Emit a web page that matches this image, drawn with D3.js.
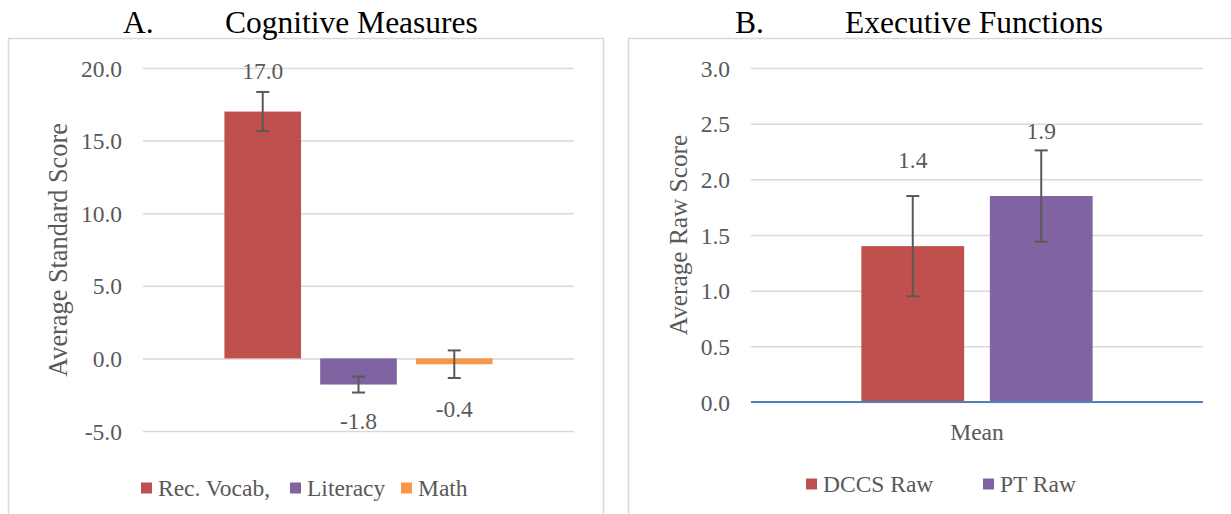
<!DOCTYPE html>
<html>
<head>
<meta charset="utf-8">
<script src="https://cdn.jsdelivr.net/npm/d3@7"></script>
<style>
  body { margin: 0; background: #fff; }
</style>
</head>
<body>
<div id="container"></div>
<script>
var width = 1231,
    height = 514;

// panel A: cognitive measures
var cogSeries = ['Rec. Vocab,', 'Literacy', 'Math'];
var cogValues = [17.0, -1.8, -0.4];
var cogErrors = [1.35, 0.55, 0.95];
var cogTicks = [-5, 0, 5, 10, 15, 20];

// panel B: executive functions
var efSeries = ['DCCS Raw', 'PT Raw'];
var efValues = [1.4, 1.85];
var efErrors = [0.45, 0.41];
var efTicks = [0, 0.5, 1, 1.5, 2, 2.5, 3];
var efCategory = 'Mean';

var colors = ['#C0504D', '#8064A2', '#F79646'];
var textColor = '#595959';
var serif = 'Liberation Serif, Times New Roman, serif';
var fmt = function(d) { return d3.format('.1f')(d).replace('\u2212', '-'); };

var svg = d3.select('#container').append('svg')
    .attr('width', width)
    .attr('height', height);

// panel frames
svg.append('rect')
    .attr('x', 8.5).attr('y', 38.5)
    .attr('width', 595).attr('height', 490)
    .attr('fill', 'none').attr('stroke', '#D9D9D9').attr('stroke-width', 1.5);
svg.append('rect')
    .attr('x', 628.5).attr('y', 38.5)
    .attr('width', 620).attr('height', 490)
    .attr('fill', 'none').attr('stroke', '#D9D9D9').attr('stroke-width', 1.5);

// titles
function title(x1, t1, x2, t2) {
  svg.append('text').attr('x', x1).attr('y', 33)
      .attr('font-size', 31.5).attr('fill', '#000').text(t1);
  svg.append('text').attr('x', x2).attr('y', 33)
      .attr('font-size', 31.5).attr('fill', '#000').text(t2);
}
title(123, 'A.', 225, 'Cognitive Measures');
title(735, 'B.', 845, 'Executive Functions');

function drawPanel(opts) {
  var y = d3.scaleLinear().domain(opts.domain).range(opts.yRange);
  var x = d3.scaleBand().domain(opts.series).range(opts.xRange)
      .paddingInner(0.2).paddingOuter(opts.outer);

  var g = svg.append('g');

  // gridlines + tick labels
  var yAxis = d3.axisLeft(y).tickValues(opts.ticks)
      .tickSize(-(opts.xRange[1] - opts.xRange[0]))
      .tickFormat(fmt)
      .tickPadding(21);
  var ax = g.append('g')
      .attr('transform', 'translate(' + opts.xRange[0] + ',0)')
      .call(yAxis);
  ax.select('.domain').remove();
  ax.selectAll('.tick line').attr('stroke', '#D9D9D9').attr('stroke-width', 1.5);
  ax.selectAll('.tick text')
      .attr('fill', textColor)
      .attr('font-size', 23.5)
      .attr('dy', '0.34em');

  // axis title
  g.append('text')
      .attr('transform', 'translate(' + opts.titleX + ',' + opts.titleY + ') rotate(-90)')
      .attr('text-anchor', 'middle')
      .attr('fill', textColor)
      .attr('font-size', opts.titleSize)
      .text(opts.yTitle);

  // bars
  g.selectAll('.bar')
      .data(opts.values)
      .enter().append('rect')
      .attr('class', 'bar')
      .attr('x', function(d, i) { return x(opts.series[i]); })
      .attr('width', x.bandwidth())
      .attr('y', function(d) { return y(Math.max(0, d)); })
      .attr('height', function(d) { return Math.abs(y(d) - y(0)); })
      .attr('fill', function(d, i) { return colors[i]; });

  if (opts.baseline) {
    g.append('line')
        .attr('x1', opts.xRange[0]).attr('x2', opts.xRange[1])
        .attr('y1', y(0)).attr('y2', y(0))
        .attr('stroke', '#4F81BD').attr('stroke-width', 2);
  }

  // error bars
  var eb = g.selectAll('.err')
      .data(opts.values)
      .enter().append('g')
      .attr('class', 'err')
      .attr('stroke', '#595959').attr('stroke-width', 2);
  eb.append('line')
      .attr('x1', function(d, i) { return x(opts.series[i]) + x.bandwidth() / 2; })
      .attr('x2', function(d, i) { return x(opts.series[i]) + x.bandwidth() / 2; })
      .attr('y1', function(d, i) { return y(d + opts.errors[i]); })
      .attr('y2', function(d, i) { return y(d - opts.errors[i]); });
  [1, -1].forEach(function(s) {
    eb.append('line')
        .attr('x1', function(d, i) { return x(opts.series[i]) + x.bandwidth() / 2 - 6.5; })
        .attr('x2', function(d, i) { return x(opts.series[i]) + x.bandwidth() / 2 + 6.5; })
        .attr('y1', function(d, i) { return y(d + s * opts.errors[i]); })
        .attr('y2', function(d, i) { return y(d + s * opts.errors[i]); });
  });

  // value labels
  g.selectAll('.lbl')
      .data(opts.values)
      .enter().append('text')
      .attr('class', 'lbl')
      .attr('x', function(d, i) { return x(opts.series[i]) + x.bandwidth() / 2; })
      .attr('y', function(d, i) { return y(d) + opts.labelOffsets[i]; })
      .attr('text-anchor', 'middle')
      .attr('dy', '0.34em')
      .attr('fill', textColor)
      .attr('font-size', 23.5)
      .text(fmt);

  // legend
  var lg = g.selectAll('.leg')
      .data(opts.series)
      .enter().append('g')
      .attr('class', 'leg')
      .attr('transform', function(d, i) { return 'translate(' + opts.legendX[i] + ',' + opts.legendY + ')'; });
  lg.append('rect')
      .attr('x', 0).attr('y', -5.5).attr('width', 11).attr('height', 11)
      .attr('fill', function(d, i) { return colors[i]; });
  lg.append('text')
      .attr('x', 17).attr('y', 0)
      .attr('dy', '0.34em')
      .attr('fill', textColor)
      .attr('font-size', 23.5)
      .text(function(d) { return d; });

  return { x: x, y: y };
}

drawPanel({
  series: cogSeries, values: cogValues, errors: cogErrors, ticks: cogTicks,
  domain: [-5, 20], yRange: [431, 68], xRange: [143, 574], outer: 0.85,
  yTitle: 'Average Standard Score', titleX: 67, titleY: 250, titleSize: 26.3,
  labelOffsets: [-41, 36, 45],
  legendX: [141, 290, 401], legendY: 488
});

drawPanel({
  series: efSeries, values: efValues, errors: efErrors, ticks: efTicks,
  domain: [0, 3], yRange: [402, 68], xRange: [751, 1203], outer: 0.859,
  yTitle: 'Average Raw Score', titleX: 687, titleY: 235, titleSize: 25.3,
  labelOffsets: [-86, -65],
  legendX: [806, 983], legendY: 484,
  baseline: true
});

svg.append('text')
    .attr('x', 977).attr('y', 432)
    .attr('text-anchor', 'middle')
    .attr('dy', '0.34em')
    .attr('fill', textColor)
    .attr('font-size', 23.5)
    .text(efCategory);

// every text in Times-like serif, set on the element itself
svg.selectAll('text').attr('font-family', serif);
</script>
</body>
</html>
